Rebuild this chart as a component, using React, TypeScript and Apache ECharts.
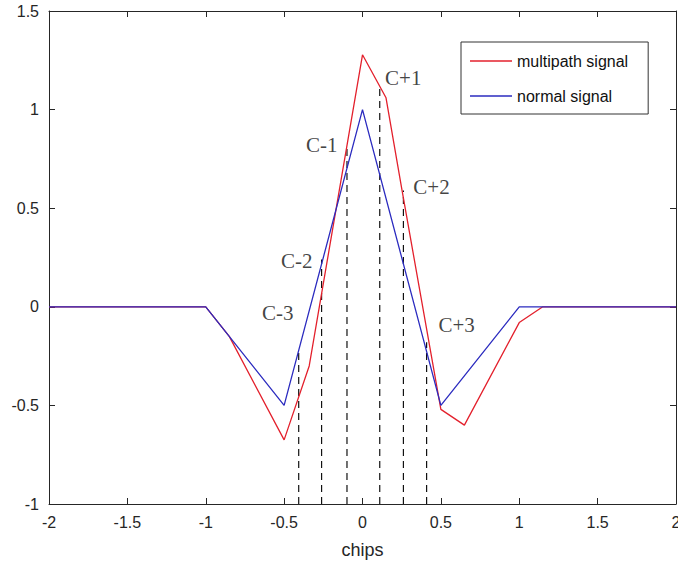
import React, { useEffect, useRef } from "react";
import * as echarts from "echarts";

const normalX = [-2, -1, -0.5, 0, 0.5, 1, 2];
const normalY = [0, 0, -0.5, 1, -0.5, 0, 0];

const multiX = [-2, -1, -0.85, -0.5, -0.34, 0, 0.15, 0.25, 0.5, 0.65, 1, 1.15, 2];
const multiY = [0, 0, -0.15, -0.675, -0.3, 1.278, 1.06, 0.6, -0.52, -0.6, -0.08, 0, 0];

const correlatorNames = ["C-3", "C-2", "C-1", "C+1", "C+2", "C+3"];
const correlatorX = [-0.407, -0.261, -0.099, 0.11, 0.261, 0.409];
const correlatorTop = [-0.23, 0.24, 0.81, 1.125, 0.59, -0.18];
const labelX = [-0.54, -0.42, -0.26, 0.26, 0.44, 0.6];
const labelY = [-0.03, 0.23, 0.82, 1.16, 0.61, -0.09];

const xTicks = { min: -2, max: 2, interval: 0.5 };
const yTicks = { min: -1, max: 1.5, interval: 0.5 };

const AXIS = "#262626";
const SANS = "'Liberation Sans', Arial, sans-serif";
const SERIF = "'Liberation Serif', 'Times New Roman', serif";

export default function App() {
  const ref = useRef<HTMLDivElement>(null);
  useEffect(() => {
    if (!ref.current) return;
    const chart = echarts.init(ref.current, undefined, { renderer: "svg" });
    const axisCommon = {
      axisLine: { show: true, onZero: false, lineStyle: { color: AXIS, width: 1 } },
      axisTick: { show: true, inside: true, length: 6, lineStyle: { color: AXIS } },
      splitLine: { show: false },
    };
    const dashed = correlatorX.map((x, i) => ({
      type: "line",
      data: [
        [x, -1],
        [x, correlatorTop[i]],
      ],
      symbol: "none",
      lineStyle: { color: "#111", width: 1.2, type: [7, 5] },
      silent: true,
      z: 1,
    }));
    chart.setOption({
      animation: false,
      backgroundColor: "#fff",
      grid: { left: 49, right: 2, top: 11, bottom: 65, outerBoundsMode: "none", containLabel: false },
      legend: {
        data: [
          { name: "multipath signal", itemStyle: { color: "#e3202c" } },
          { name: "normal signal", itemStyle: { color: "#2b2bbf" } },
        ],
        icon: "rect",
        orient: "vertical",
        left: 461,
        top: 42,
        padding: [11, 20, 10, 9],
        itemWidth: 42,
        itemHeight: 1.5,
        itemGap: 19,
        backgroundColor: "#fff",
        borderColor: "#333",
        borderWidth: 1,
        textStyle: { fontFamily: SANS, fontSize: 16, color: "#111" },
      },
      xAxis: [
        {
          type: "value",
          ...xTicks,
          ...axisCommon,
          name: "chips",
          nameLocation: "middle",
          nameGap: 37,
          nameTextStyle: { fontFamily: SANS, fontSize: 18, color: AXIS },
          axisLabel: { fontFamily: SANS, fontSize: 16, color: AXIS, margin: 10 },
        },
        {
          type: "value",
          position: "top",
          ...xTicks,
          ...axisCommon,
          axisLabel: { show: false },
        },
      ],
      yAxis: [
        {
          type: "value",
          ...yTicks,
          ...axisCommon,
          axisLabel: { fontFamily: SANS, fontSize: 16, color: AXIS, margin: 10 },
        },
        {
          type: "value",
          position: "right",
          ...yTicks,
          ...axisCommon,
          axisLabel: { show: false },
        },
      ],
      series: [
        ...dashed,
        {
          name: "multipath signal",
          type: "line",
          data: multiX.map((x, i) => [x, multiY[i]]),
          symbol: "none",
          lineStyle: { color: "#e3202c", width: 1.3 },
          itemStyle: { color: "#e3202c" },
          z: 3,
        },
        {
          name: "normal signal",
          type: "line",
          data: normalX.map((x, i) => [x, normalY[i]]),
          symbol: "none",
          lineStyle: { color: "#2b2bbf", width: 1.3 },
          itemStyle: { color: "#2b2bbf" },
          z: 4,
        },
        {
          type: "scatter",
          symbolSize: 0,
          silent: true,
          data: correlatorNames.map((n, i) => ({ name: n, value: [labelX[i], labelY[i]] })),
          label: {
            show: true,
            position: "inside",
            formatter: "{b}",
            fontFamily: SERIF,
            fontSize: 21,
            color: "#111",
          },
          z: 5,
        },
      ],
    });
    return () => chart.dispose();
  }, []);
  return <div ref={ref} style={{ width: 678, height: 569, position: "absolute", left: 0, top: 0 }} />;
}
